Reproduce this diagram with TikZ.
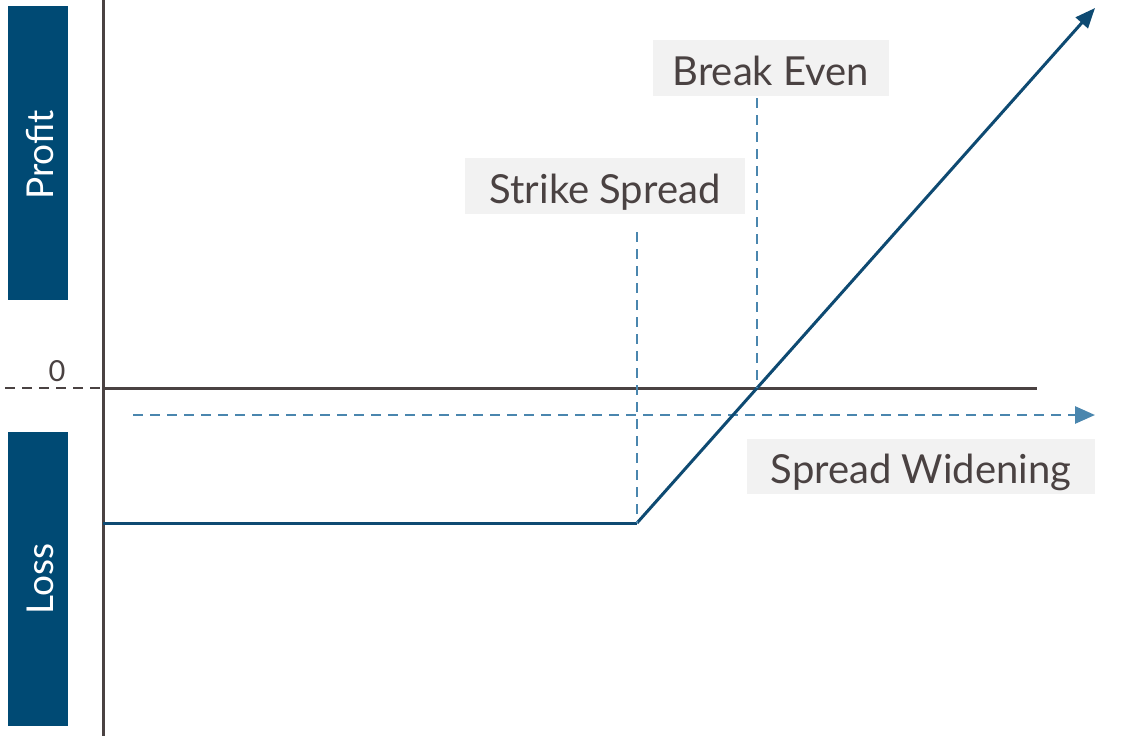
\documentclass[tikz,border=0pt]{standalone}
\usepackage{fontspec}
\setmainfont{Lato}
\usetikzlibrary{arrows.meta}
\definecolor{navy}{HTML}{004A74}
\definecolor{lineblue}{HTML}{0E4A72}
\definecolor{dashblue}{HTML}{4A86AE}
\definecolor{axisgray}{HTML}{4A4242}
\definecolor{boxgray}{HTML}{F2F2F2}
\definecolor{txtgray}{HTML}{4A4242}
\tikzset{
  sidebar/.style={fill=navy, draw=none},
  sidetext/.style={text=white, font=\fontsize{37}{42}\selectfont, rotate=90},
  lbl/.style={fill=boxgray, text=txtgray, font=\fontsize{40}{46}\selectfont, inner sep=0pt, anchor=center, text height=35pt, text depth=0pt},
  axisline/.style={draw=axisgray, line width=3pt},
  guide/.style={draw=dashblue, line width=2.8pt, dash pattern=on 10pt off 7pt},
  payoff/.style={draw=lineblue, line width=3pt}
}
\begin{document}
\begin{tikzpicture}[x=1pt,y=-1pt]
\useasboundingbox (0,0) rectangle (1121,736);
% side bars
\fill[sidebar] (8,6) rectangle (68,300);
\fill[sidebar] (8,432) rectangle (68,726);
\node[sidetext] (profit) at (40,155) {Profit};
\node[sidetext] (loss) at (40,579) {Loss};
% axes
\coordinate (vtop) at (103,0);
\coordinate (vbot) at (103,736);
\coordinate (origin) at (103,388);
\coordinate (hend) at (1037,388);
\coordinate (dl) at (5,388);
\draw[axisline] (vtop) -- (vbot);
\draw[axisline] (origin) -- (hend);
\draw[draw=axisgray, line width=2.6pt, dash pattern=on 10pt off 7pt] (dl) -- (origin);
\node[text=txtgray, font=\fontsize{29}{34}\selectfont] (zero) at (57,371) {0};
% spread widening arrow
\coordinate (sw1) at (133,415);
\coordinate (sw2) at (1095,415);
\draw[guide, -{Triangle[length=20pt,width=17pt]}] (sw1) -- (sw2);
% payoff
\coordinate (p0) at (103,523);
\coordinate (k) at (637,523);
\coordinate (be) at (757,388);
\coordinate (tip) at (1095,8);
\draw[payoff] (p0) -- (k);
\draw[payoff, -{Triangle[length=20pt,width=16pt]}] (k) -- (tip);
% labels
\node[lbl, minimum width=280pt, minimum height=56pt] (strike) at (605,186) {Strike Spread};
\node[lbl, minimum width=236pt, minimum height=56pt] (breakeven) at (771,68) {Break Even};
\node[lbl, minimum width=348pt, minimum height=55pt] (widen) at (921,466) {Spread Widening};
% guides
\coordinate (kt) at (637,232);
\coordinate (bt) at (757,98);
\draw[guide] (kt) -- (k);
\draw[guide] (bt) -- (be);
\end{tikzpicture}
\end{document}
